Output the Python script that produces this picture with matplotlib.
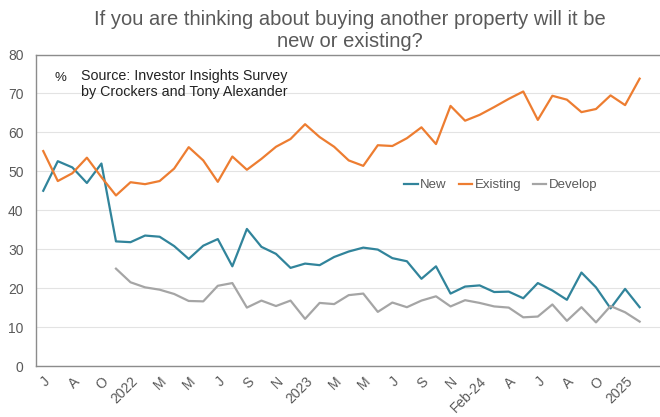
import matplotlib
matplotlib.use("Agg")
import matplotlib.pyplot as plt
import numpy as np

# tick labels (one label every second survey)
tick_labels = ["J", "A", "O", "2022", "M", "M", "J", "S", "N", "2023", "M",
               "M", "J", "S", "N", "Feb-24", "A", "J", "A", "O", "2025"]

new = [45.0, 52.6, 51.0, 47.0, 52.0, 32.0, 31.8, 33.5, 33.2, 30.8, 27.5,
       30.9, 32.6, 25.6, 35.2, 30.6, 28.8, 25.2, 26.3, 25.9, 28.0, 29.4,
       30.4, 29.9, 27.7, 26.9, 22.4, 25.6, 18.6, 20.4, 20.7, 19.0, 19.1,
       17.4, 21.3, 19.4, 17.0, 24.0, 20.2, 14.8, 19.8, 15.1]

existing = [55.2, 47.5, 49.5, 53.5, 48.5, 43.8, 47.2, 46.7, 47.5, 50.7, 56.2,
            52.8, 47.3, 53.8, 50.4, 53.2, 56.3, 58.3, 62.1, 58.8, 56.3, 52.8,
            51.4, 56.7, 56.5, 58.5, 61.3, 57.0, 66.8, 63.0, 64.5, 66.5, 68.6,
            70.5, 63.2, 69.4, 68.4, 65.2, 66.0, 69.5, 67.0, 73.8]

# develop question only asked from the sixth survey on
develop = [None] * 5 + [25.0, 21.5, 20.2, 19.6, 18.5, 16.7, 16.6, 20.6, 21.3,
                        15.0, 16.8, 15.4, 16.8, 12.1, 16.2, 15.9, 18.2, 18.6,
                        13.9, 16.3, 15.1, 16.8, 17.9, 15.3, 16.9, 16.2, 15.3,
                        15.0, 12.5, 12.7, 15.8, 11.6, 15.1, 11.2, 15.4, 13.8,
                        11.4]

TEXT_GREY = "#595959"
plt.rcParams["font.family"] = ["Liberation Sans", "DejaVu Sans"]

x = np.arange(len(new))
dev = np.array([np.nan if v is None else v for v in develop])

fig = plt.figure(figsize=(6.6, 4.17), dpi=100)
ax = fig.add_axes([0.0545, 0.1223, 0.9455, 0.747])

ax.plot(x, new, color="#31849B", lw=1.6, label="New")
ax.plot(x, existing, color="#ED7D31", lw=1.6, label="Existing")
ax.plot(x, dev, color="#A5A5A5", lw=1.6, label="Develop")

ax.set_ylim(0, 80)
ax.set_yticks(range(0, 81, 10))
ax.set_xlim(-0.5, 42.4)
ax.set_xticks(x[::2])
ax.set_xticklabels(tick_labels, rotation=45, ha="right", va="top",
                   rotation_mode="anchor")
ax.tick_params(axis="both", length=0, labelsize=10, colors=TEXT_GREY)
ax.tick_params(axis="y", pad=9)
ax.tick_params(axis="x", pad=6)

ax.grid(axis="y", color="#E3E3E3", lw=0.8)
ax.set_axisbelow(True)
for side in ["left", "bottom", "top"]:
    ax.spines[side].set_color("#8C8C8C")
    ax.spines[side].set_linewidth(1.0)
ax.spines["right"].set_visible(False)

ax.text(0.03, 0.925, "%", transform=ax.transAxes, fontsize=9.5, color="#222222",
        va="center")
ax.text(0.072, 0.955, "Source: Investor Insights Survey\nby Crockers and Tony Alexander",
        transform=ax.transAxes, fontsize=10.3, color="#222222", va="top",
        linespacing=1.2)

leg = ax.legend(loc="center", bbox_to_anchor=(0.745, 0.58), ncol=3,
                frameon=False, handlelength=1.0, handletextpad=0.2,
                columnspacing=0.9, fontsize=9.5)
for t in leg.get_texts():
    t.set_color(TEXT_GREY)

fig.text(0.53, 0.928, "If you are thinking about buying another property will it be\nnew or existing?",
         ha="center", va="center", fontsize=14.5, color=TEXT_GREY, linespacing=1.2)

fig.savefig("out.png", dpi=100)
